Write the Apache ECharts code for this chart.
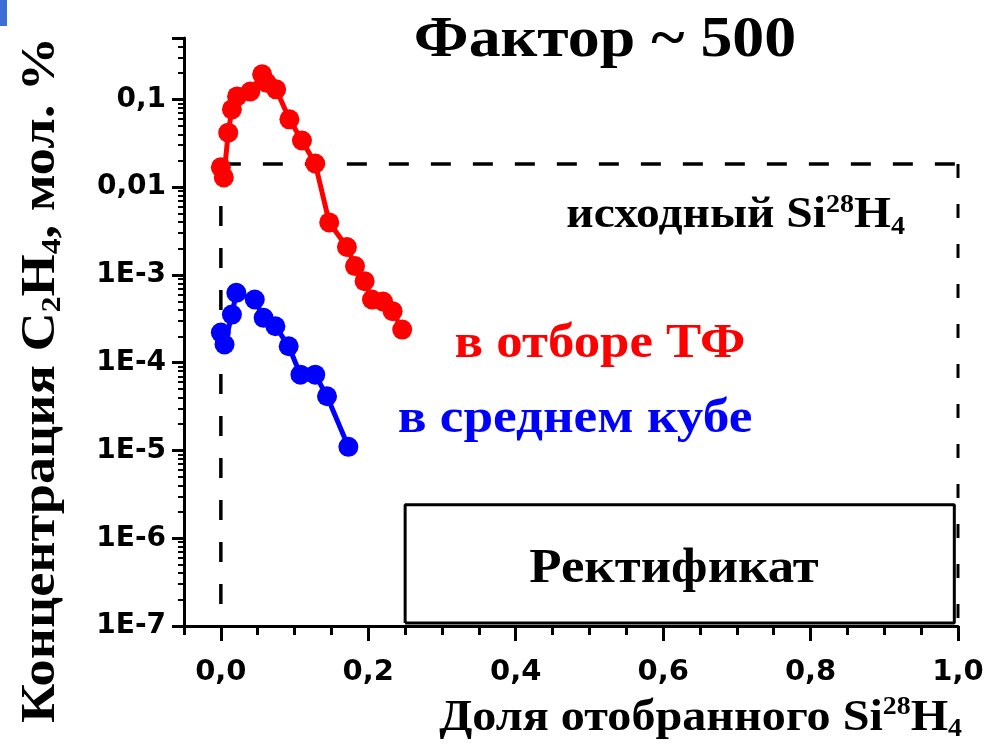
<!DOCTYPE html>
<html>
<head>
<meta charset="utf-8">
<script src="https://cdn.jsdelivr.net/npm/echarts@6/dist/echarts.min.js"></script>
<style>html,body{margin:0;padding:0;background:#fff;}#c{width:988px;height:749px;}</style>
</head>
<body>
<div id="c"></div>
<script>
// Red series: "в отборе ТФ" (x = fraction, y = concentration, mol.%)
const redX = [0.0, 0.004, 0.010, 0.015, 0.022, 0.040, 0.056, 0.062, 0.075, 0.093, 0.110, 0.128, 0.147, 0.171, 0.182, 0.195, 0.205, 0.220, 0.233, 0.246];
const redY = [0.0168, 0.0129, 0.0417, 0.0769, 0.108, 0.123, 0.193, 0.155, 0.130, 0.0592, 0.034, 0.0186, 0.00396, 0.00208, 0.00126, 0.000848, 0.000524, 0.000498, 0.000386, 0.000238];
// Blue series: "в среднем кубе"
const blueX = [0.0, 0.005, 0.015, 0.021, 0.046, 0.058, 0.074, 0.092, 0.108, 0.128, 0.144, 0.173];
const blueY = [0.000220, 0.000161, 0.000353, 0.000625, 0.000525, 0.000324, 0.000260, 0.000154, 0.000073, 0.000073, 0.0000414, 0.000011];
// Reference level (исходный Si28H4) and "Ректификат" box
const initialLevel = 0.0183;
const boxX = [0.25, 0.995];
const boxY = [1.08e-7, 2.4e-6];
// Axes
const xMin = -0.05, xMax = 1.0;
const yMin = 1e-7, yMax = 0.5;
const xMajorTicks = [0, 0.2, 0.4, 0.6, 0.8, 1.0];
const xMinorTicks = [-0.05, 0.05, 0.1, 0.15, 0.25, 0.3, 0.35, 0.45, 0.5, 0.55, 0.65, 0.7, 0.75, 0.85, 0.9, 0.95];
const yDecades = [1e-7, 1e-6, 1e-5, 1e-4, 1e-3, 1e-2, 1e-1];
const yMinorMultipliers = [2, 3, 4, 5, 6, 7, 8, 9];

const pts = (xs, ys) => xs.map((x, i) => [x, ys[i]]);
// minor ticks of the log axis, placed on a helper axis that runs in log10 space
const yMinorTicksLog = [];
yDecades.forEach(d => yMinorMultipliers.forEach(m => { const v = d * m; if (v <= yMax * 1.0001) yMinorTicksLog.push(Math.log10(v)); }));
const serif = '"Liberation Serif", "Times New Roman", serif';
const sans = '"DejaVu Sans", Arial, sans-serif';
const W = 988, gridLeft = 184, gridRight = 30;
const clear = 'rgba(0,0,0,0)';

function yLabel(v) {
  const e = Math.round(Math.log10(v));
  if (Math.abs(Math.log10(v) - e) > 1e-6) return '';
  if (e >= -2) return String(Math.pow(10, e).toFixed(-e)).replace('.', ',');
  return '1E' + e;
}

const chart = echarts.init(document.getElementById('c'), null, {renderer: 'canvas'});
chart.setOption({
  animation: false,
  backgroundColor: '#fff',
  grid: {left: gridLeft, right: gridRight, top: 38, bottom: 123, containLabel: false},
  xAxis: [{
    type: 'value', min: xMin, max: xMax,
    axisLine: {onZero: false, lineStyle: {color: '#000', width: 3}},
    axisTick: {customValues: xMajorTicks, length: 15, lineStyle: {color: '#000', width: 3}},
    axisLabel: {customValues: xMajorTicks, formatter: v => v.toFixed(1).replace('.', ','), color: '#000', fontFamily: sans, fontWeight: 'bold', fontSize: 29, margin: 32},
    splitLine: {show: false}
  }, {
    type: 'value', min: xMin, max: xMax, position: 'bottom',
    axisLine: {show: true, onZero: false, lineStyle: {color: clear, width: 1}},
    axisTick: {show: true, customValues: xMinorTicks, length: 9, lineStyle: {color: '#000', width: 3}},
    axisLabel: {show: true, formatter: () => '', color: clear},
    splitLine: {show: false}
  }],
  yAxis: [{
    type: 'log', logBase: 10, min: yMin, max: yMax, interval: 1, position: 'left',
    axisLine: {show: true, onZero: false, lineStyle: {color: '#000', width: 3}},
    axisTick: {show: true, length: 12, lineStyle: {color: '#000', width: 3}},
    axisLabel: {formatter: yLabel, color: '#000', fontFamily: sans, fontWeight: 'bold', fontSize: 28, margin: 18},
    splitLine: {show: false}
  }, {
    type: 'value', min: Math.log10(yMin), max: Math.log10(yMax), position: 'right',
    offset: -(W - gridLeft - gridRight),
    axisLine: {show: true, onZero: false, lineStyle: {color: clear, width: 1}},
    axisTick: {show: true, inside: true, customValues: yMinorTicksLog, length: 6, lineStyle: {color: '#000', width: 2}},
    axisLabel: {show: true, formatter: () => '', color: clear},
    splitLine: {show: false}
  }],
  series: [
    {type: 'line', name: 'dashH', data: [[0, initialLevel], [1.0, initialLevel]], symbol: 'none', lineStyle: {color: '#000', width: 3.5, type: [20, 22]}, z: 1},
    {type: 'line', name: 'dashV0', data: [[0, initialLevel], [0, yMin]], symbol: 'none', lineStyle: {color: '#000', width: 3.5, type: [20, 22]}, z: 1},
    {type: 'line', name: 'dashV1', data: [[1.0, initialLevel], [1.0, yMin]], symbol: 'none', lineStyle: {color: '#000', width: 3, type: [14, 26]}, z: 1},
    {type: 'line', name: 'box', data: [[boxX[0], boxY[0]], [boxX[0], boxY[1]], [boxX[1], boxY[1]], [boxX[1], boxY[0]], [boxX[0], boxY[0]]], symbol: 'none', lineStyle: {color: '#000', width: 3}, z: 1},
    {type: 'line', name: 'в отборе ТФ', data: pts(redX, redY), symbol: 'circle', symbolSize: 20, itemStyle: {color: '#ff0000'}, lineStyle: {color: '#ff0000', width: 5}, z: 3},
    {type: 'line', name: 'в среднем кубе', data: pts(blueX, blueY), symbol: 'circle', symbolSize: 20, itemStyle: {color: '#0000ff'}, lineStyle: {color: '#0000ff', width: 5}, z: 3}
  ],
  graphic: [
    {type: 'rect', left: 0, top: 0, shape: {width: 7, height: 26}, style: {fill: '#3b6fd6'}},
    {type: 'text', x: 605, y: 42, scaleX: 1.14, style: {text: 'Фактор ~ 500', font: 'bold 56px ' + serif, fill: '#000', align: 'center', verticalAlign: 'middle'}},
    {type: 'text', x: 905, y: 216, scaleX: 1.08, style: {
      text: '{m|исходный Si}{sup|28}{m|H}{sub|4}', align: 'right', verticalAlign: 'middle',
      rich: {m: {font: 'bold 44px ' + serif, fill: '#000'}, sup: {font: 'bold 26px ' + serif, fill: '#000', verticalAlign: 'top', padding: [0, 0, 22, 0]}, sub: {font: 'bold 26px ' + serif, fill: '#000', verticalAlign: 'bottom', padding: [18, 0, 0, 0]}}
    }},
    {type: 'text', x: 600, y: 345, scaleX: 1.1, style: {text: 'в отборе ТФ', font: 'bold 48px ' + serif, fill: '#ff0000', align: 'center', verticalAlign: 'middle'}},
    {type: 'text', x: 575, y: 420, scaleX: 1.11, style: {text: 'в среднем кубе', font: 'bold 48px ' + serif, fill: '#0000ff', align: 'center', verticalAlign: 'middle'}},
    {type: 'text', x: 674, y: 570, scaleX: 1.1, style: {text: 'Ректификат', font: 'bold 48px ' + serif, fill: '#000', align: 'center', verticalAlign: 'middle'}},
    {type: 'text', x: 962, y: 718, scaleX: 1.07, style: {
      text: '{m|Доля отобранного Si}{sup|28}{m|H}{sub|4}', align: 'right', verticalAlign: 'middle',
      rich: {m: {font: 'bold 45px ' + serif, fill: '#000'}, sup: {font: 'bold 26px ' + serif, fill: '#000', verticalAlign: 'top', padding: [0, 0, 22, 0]}, sub: {font: 'bold 26px ' + serif, fill: '#000', verticalAlign: 'bottom', padding: [20, 0, 0, 0]}}
    }},
    {type: 'text', x: 42, y: 380, rotation: Math.PI / 2, scaleX: 1.13, style: {
      text: '{m|Концентрация C}{sub|2}{m|H}{sub|4}{m|, мол. %}', align: 'center', verticalAlign: 'middle',
      rich: {m: {font: 'bold 48px ' + serif, fill: '#000'}, sub: {font: 'bold 28px ' + serif, fill: '#000', verticalAlign: 'bottom', padding: [22, 0, 0, 0]}}
    }}
  ]
});
</script>
</body>
</html>
